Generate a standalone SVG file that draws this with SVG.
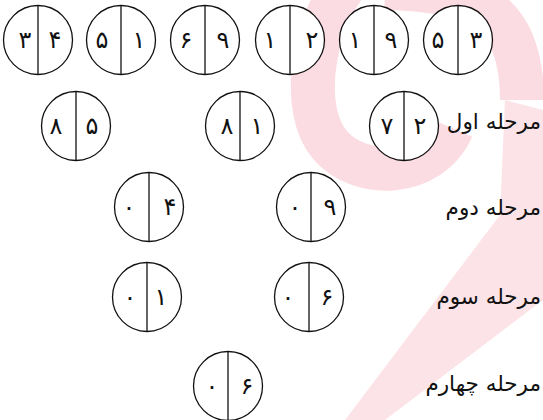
<svg xmlns="http://www.w3.org/2000/svg" width="543" height="420" viewBox="0 0 543 420">
<style>
.c{fill:none;stroke:#111;stroke-width:1.3}
.d{font-family:"DejaVu Sans",sans-serif;font-size:24px;fill:#111;text-anchor:middle}
.l{font-family:"DejaVu Sans",sans-serif;font-size:21.5px;fill:#111;text-anchor:end}
.wm{fill:none;stroke:#fbdce2;stroke-width:44}
</style>
<rect width="543" height="420" fill="#fff"/>
<g id="watermark">
<path class="wm" d="M345 -15 C312 30 300 110 330 145 C360 180 430 178 452 128"/>
<path class="wm" d="M385 -12 C470 -10 522 5 522 100" stroke="#fde9ec"/>
<path d="M505 100 L543 110 L543 300 L385 420 L345 420 L500 215 Z" fill="#fce3e7"/>
</g>
<defs>
<g id="node">
<circle class="c" r="34.5" style="fill:#fff"/>
<line class="c" x1="0" y1="-34.5" x2="0" y2="34.5"/>
</g>
</defs>
<g id="n1"><use href="#node" x="38" y="40"/><text class="d" x="25" y="48">۳</text><text class="d" x="55" y="48">۴</text></g>
<g id="n2"><use href="#node" x="121" y="40"/><text class="d" x="102" y="48">۵</text><text class="d" x="139" y="48">۱</text></g>
<g id="n3"><use href="#node" x="205" y="40"/><text class="d" x="186" y="48">۶</text><text class="d" x="223" y="48">۹</text></g>
<g id="n4"><use href="#node" x="290" y="40"/><text class="d" x="270" y="48">۱</text><text class="d" x="312" y="48">۲</text></g>
<g id="n5"><use href="#node" x="374" y="40"/><text class="d" x="355" y="48">۱</text><text class="d" x="391" y="48">۹</text></g>
<g id="n6"><use href="#node" x="458" y="40"/><text class="d" x="438" y="48">۵</text><text class="d" x="476" y="48">۳</text></g>
<g id="n7"><use href="#node" x="76" y="126"/><text class="d" x="56" y="134">۸</text><text class="d" x="92" y="134">۵</text></g>
<g id="n8"><use href="#node" x="240" y="126"/><text class="d" x="227" y="134">۸</text><text class="d" x="257" y="134">۱</text></g>
<g id="n9"><use href="#node" x="404" y="126"/><text class="d" x="387" y="134">۷</text><text class="d" x="420" y="134">۲</text></g>
<g id="n10"><use href="#node" x="149" y="207"/><text class="d" x="129" y="215">۰</text><text class="d" x="170" y="215">۴</text></g>
<g id="n11"><use href="#node" x="311" y="207"/><text class="d" x="295" y="215">۰</text><text class="d" x="330" y="215">۹</text></g>
<g id="n12"><use href="#node" x="147" y="297"/><text class="d" x="130" y="305">۰</text><text class="d" x="161" y="305">۱</text></g>
<g id="n13"><use href="#node" x="309" y="297"/><text class="d" x="288" y="305">۰</text><text class="d" x="327" y="305">۶</text></g>
<g id="n14"><use href="#node" x="228" y="386"/><text class="d" x="212" y="394">۰</text><text class="d" x="247" y="394">۶</text></g>
<g id="labels">
<text class="l" x="541" y="129">مرحله اول</text>
<text class="l" x="541" y="215">مرحله دوم</text>
<text class="l" x="541" y="304">مرحله سوم</text>
<text class="l" x="541" y="391">مرحله چهارم</text>
</g>
<g id="connectors"></g>
</svg>
